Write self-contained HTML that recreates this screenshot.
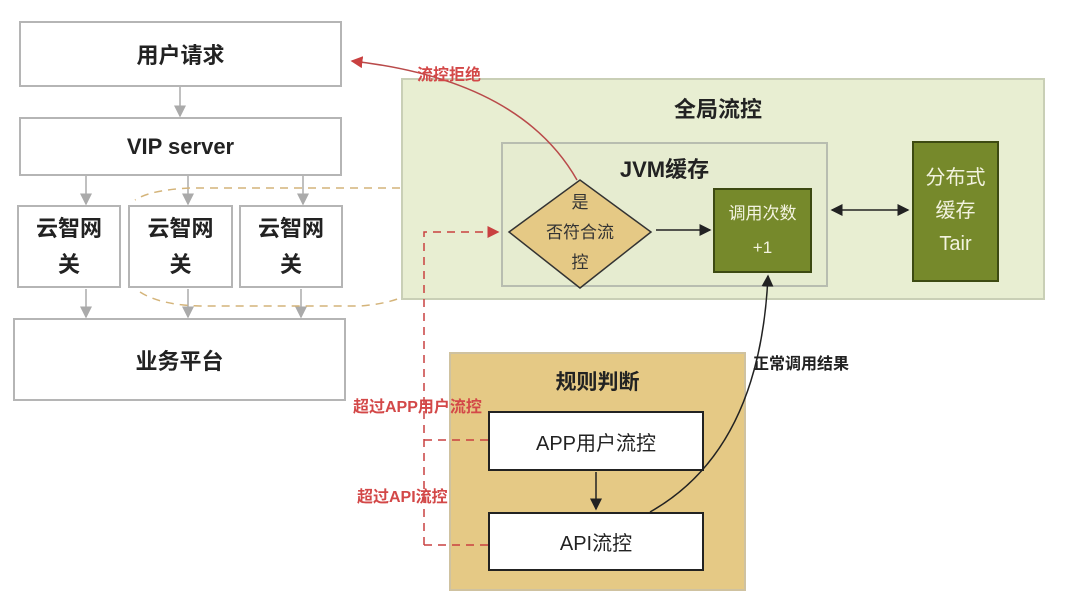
<!DOCTYPE html>
<html><head><meta charset="utf-8"><style>
body{margin:0;width:1080px;height:612px;background:#fff;position:relative;overflow:hidden;font-family:"Liberation Sans","Noto Sans CJK SC",sans-serif;}
.b{position:absolute;box-sizing:border-box;display:flex;align-items:center;justify-content:center;text-align:center;color:#222;}
.w{background:#fff;border:2px solid #b5b5b5;font-weight:bold;font-size:22px;}
.lbl{position:absolute;font-weight:bold;font-size:16px;white-space:nowrap;}
</style></head><body>
<div class="b w" style="left:19px;top:21px;width:323px;height:66px;">用户请求</div>
<div class="b w" style="left:19px;top:117px;width:323px;height:59px;">VIP server</div>
<div class="b w" style="left:17px;top:205px;width:104px;height:83px;line-height:36px;">云智网<br>关</div>
<div class="b w" style="left:128px;top:205px;width:105px;height:83px;line-height:36px;">云智网<br>关</div>
<div class="b w" style="left:239px;top:205px;width:104px;height:83px;line-height:36px;">云智网<br>关</div>
<div class="b w" style="left:13px;top:318px;width:333px;height:83px;">业务平台</div>

<div class="b" style="left:401px;top:78px;width:644px;height:222px;background:#e8eed2;border:2px solid #c9cfb6;align-items:flex-start;padding-top:12px;font-weight:bold;font-size:22px;padding-right:10px;">全局流控</div>
<div class="b" style="left:501px;top:142px;width:327px;height:145px;background:#e6ecd0;border:2px solid #b8bdb0;align-items:flex-start;padding-top:8px;font-weight:bold;font-size:22px;">JVM缓存</div>
<div class="b" style="left:713px;top:188px;width:99px;height:85px;background:#76892b;border:2px solid #3d4a12;color:#f3f3e0;font-size:17px;line-height:34px;">调用次数<br>+1</div>
<div class="b" style="left:912px;top:141px;width:87px;height:141px;background:#76892b;border:2px solid #3d4a12;color:#f3f3e0;font-size:20px;line-height:33px;">分布式<br>缓存<br>Tair</div>

<div class="b" style="left:449px;top:352px;width:297px;height:239px;background:#e5c985;border:2px solid #cfc2a0;align-items:flex-start;padding-top:12px;font-weight:bold;font-size:21px;">规则判断</div>
<div class="b" style="left:488px;top:411px;width:216px;height:60px;background:#fff;border:2px solid #222;font-size:20px;">APP用户流控</div>
<div class="b" style="left:488px;top:512px;width:216px;height:59px;background:#fff;border:2px solid #222;font-size:20px;">API流控</div>

<svg style="position:absolute;left:0;top:0" width="1080" height="612">
<defs>
<marker id="g" markerWidth="8" markerHeight="8" refX="7" refY="4" orient="auto"><path d="M0,0L8,4L0,8z" fill="#aaa"/></marker>
<marker id="k" markerWidth="8" markerHeight="8" refX="7" refY="4" orient="auto-start-reverse"><path d="M0,0L8,4L0,8z" fill="#222"/></marker>
<marker id="r" markerWidth="8" markerHeight="8" refX="7" refY="4" orient="auto"><path d="M0,0L8,4L0,8z" fill="#c94040"/></marker>
</defs>
<g stroke="#aaa" stroke-width="1.5" fill="none">
<line x1="180" y1="87" x2="180" y2="116" marker-end="url(#g)"/>
<line x1="86" y1="176" x2="86" y2="204" marker-end="url(#g)"/>
<line x1="188" y1="176" x2="188" y2="204" marker-end="url(#g)"/>
<line x1="303" y1="176" x2="303" y2="204" marker-end="url(#g)"/>
<line x1="86" y1="289" x2="86" y2="317" marker-end="url(#g)"/>
<line x1="188" y1="289" x2="188" y2="317" marker-end="url(#g)"/>
<line x1="301" y1="289" x2="301" y2="317" marker-end="url(#g)"/>
</g>
<path d="M400,188 L190,188 Q150,190 135,200 M140,292 Q160,305 200,306 L360,306 Q385,304 400,298" stroke="#d4b47a" stroke-width="1.5" stroke-dasharray="8,6" fill="none"/>
<polygon points="509,232 580,180 651,232 580,288" fill="#e5c985" stroke="#333" stroke-width="1.5"/>
<text x="580" y="208" font-size="17" text-anchor="middle" fill="#333" font-family="Liberation Sans,Noto Sans CJK SC,sans-serif">是</text>
<text x="580" y="238" font-size="17" text-anchor="middle" fill="#333" font-family="Liberation Sans,Noto Sans CJK SC,sans-serif">否符合流</text>
<text x="580" y="268" font-size="17" text-anchor="middle" fill="#333" font-family="Liberation Sans,Noto Sans CJK SC,sans-serif">控</text>
<line x1="656" y1="230" x2="710" y2="230" stroke="#222" stroke-width="1.5" marker-end="url(#k)"/>
<line x1="832" y1="210" x2="908" y2="210" stroke="#222" stroke-width="1.5" marker-end="url(#k)" marker-start="url(#k)"/>
<line x1="596" y1="472" x2="596" y2="509" stroke="#222" stroke-width="1.5" marker-end="url(#k)"/>
<path d="M650,512 Q760,450 768,276" stroke="#222" stroke-width="1.5" fill="none" marker-end="url(#k)"/>
<path d="M577,180 Q520,80 352,61" stroke="#b94a4a" stroke-width="1.5" fill="none" marker-end="url(#r)"/>
<g stroke="#c94040" stroke-width="1.5" stroke-dasharray="8,6" fill="none">
<path d="M424,545 L424,232 L498,232" marker-end="url(#r)"/>
<line x1="424" y1="440" x2="488" y2="440"/>
<line x1="424" y1="545" x2="488" y2="545"/>
</g>
</svg>
<div class="lbl" style="left:417px;top:61px;color:#d34848;">流控拒绝</div>
<div class="lbl" style="left:753px;top:350px;color:#222;">正常调用结果</div>
<div class="lbl" style="left:353px;top:393px;color:#d34848;">超过APP用户流控</div>
<div class="lbl" style="left:357px;top:483px;color:#d34848;">超过API流控</div>
</body></html>
